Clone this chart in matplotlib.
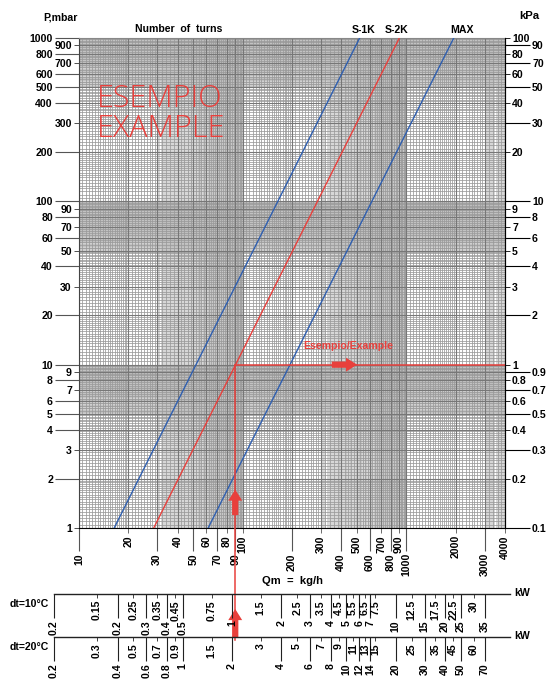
import numpy as np
import matplotlib
matplotlib.use('Agg')
import matplotlib.pyplot as plt
from matplotlib.ticker import FixedLocator, FixedFormatter, NullLocator

plt.rcParams['font.family'] = ['Liberation Sans Narrow', 'Liberation Sans', 'DejaVu Sans']
plt.rcParams['font.weight'] = 'bold'

# ---------------- data ----------------
pressure_ends = [1, 1000]          # mbar
s1k_flow = [16.4, 518]             # kg/h at 1 and 1000 mbar
s2k_flow = [28.6, 905]
max_flow = [61.5, 1945]
curve_labels = ['S-1K', 'S-2K', 'MAX']

example_flow = 90                  # kg/h
example_pressure = 10              # mbar

p_far = [2, 4, 5, 6, 8, 10, 20, 40, 60, 80, 100, 200, 400, 500, 600, 800, 1000]
p_close = [1, 3, 7, 9, 30, 50, 70, 90, 300, 700, 900]
kpa_far = [0.1, 0.3, 0.5, 0.7, 0.9, 2, 4, 6, 8, 10, 30, 50, 70, 90]
kpa_close = [0.2, 0.4, 0.6, 0.8, 1, 3, 5, 7, 9, 20, 40, 60, 80, 100]
q_far = [10, 30, 50, 70, 90, 200, 400, 600, 800, 1000, 3000]
q_close = [20, 40, 60, 80, 100, 300, 500, 700, 900, 2000, 4000]

kw10_major = [0.2, 0.3, 0.4, 0.5, 1, 2, 3, 4, 5, 6, 7, 10, 15, 20, 25, 35]
kw10_minor = [0.15, 0.25, 0.35, 0.45, 0.75, 1.5, 2.5, 3.5, 4.5, 5.5, 6.5, 7.5, 12.5, 17.5, 22.5, 30]
kw20_major = [0.4, 0.6, 0.8, 1, 2, 4, 6, 8, 10, 12, 14, 20, 30, 40, 50, 70]
kw20_minor = [0.3, 0.5, 0.7, 0.9, 1.5, 3, 5, 7, 9, 11, 13, 15, 25, 35, 45, 60]
kw_start_label = '0.2'
kcal_per_kwh = 860

# ---------------- layout ----------------
W, H = 555, 680
AX_L, AX_R, AX_T, AX_B = 79, 505, 38, 528
RED = '#e8403c'
BLUE = '#2f5fb0'
FS = 7.6
PT = 0.72  # points per pixel at 100 dpi

fig = plt.figure(figsize=(W / 100, H / 100), dpi=100)
ax = fig.add_axes([AX_L / W, 1 - AX_B / H, (AX_R - AX_L) / W, (AX_B - AX_T) / H])
ax.set_xscale('log')
ax.set_yscale('log')
ax.set_xlim(10, 4000)
ax.set_ylim(1, 1000)


def fig_x(q):
    x0, x1 = ax.get_xlim()
    return AX_L / W + (np.log10(q) - np.log10(x0)) / (np.log10(x1) - np.log10(x0)) * (AX_R - AX_L) / W


# ---------------- grid ----------------
def grid_values(lo, hi, segs):
    d = lo
    out = []
    while d < hi:
        for a, b, step in segs:
            vals = np.arange(a, b + 1e-9, step) * d
            out.extend(vals[(vals >= lo) & (vals <= hi)])
        d *= 10
    return np.unique(np.round(out, 6))


x_light = grid_values(10, 4000, [(3, 10, 0.05)])
x_norm = grid_values(10, 4000, [(1, 2, 0.05), (2, 3, 0.1), (3, 10, 0.2)])
y_light = grid_values(1, 1000, [(5, 10, 0.05)])
y_norm = grid_values(1, 1000, [(1, 2, 0.05), (2, 5, 0.1), (5, 10, 0.2)])
x_int = grid_values(10, 4000, [(1, 10, 1)])
y_int = grid_values(1, 1000, [(1, 10, 1)])

ax.vlines(x_light, 1, 1000, colors='#c0c0c0', lw=0.45, zorder=0)
ax.hlines(y_light, 10, 4000, colors='#bcbcbc', lw=0.5, zorder=0)
ax.vlines(x_norm, 1, 1000, colors='#9a9a9a', lw=0.55, zorder=0.5)
ax.hlines(y_norm, 10, 4000, colors='#9a9a9a', lw=0.55, zorder=0.5)
ax.vlines(x_int, 1, 1000, colors='#777777', lw=0.8, zorder=0.6)
ax.hlines(y_int, 10, 4000, colors='#777777', lw=0.8, zorder=0.6)

# ---------------- curves ----------------
ax.plot(s1k_flow, pressure_ends, color=BLUE, lw=1.0, zorder=3)
ax.plot(s2k_flow, pressure_ends, color=RED, lw=1.0, zorder=3)
ax.plot(max_flow, pressure_ends, color=BLUE, lw=1.0, zorder=3)

# ---------------- axes styling ----------------
fmt = lambda v: f'{v:g}'
ax.spines['top'].set_color('#888888')
ax.spines['left'].set_color('#444444')
ax.spines['bottom'].set_color('black')
ax.spines['right'].set_color('black')

ax.yaxis.set_major_locator(FixedLocator(p_far))
ax.yaxis.set_major_formatter(FixedFormatter([fmt(v) for v in p_far]))
ax.yaxis.set_minor_locator(FixedLocator(p_close))
ax.yaxis.set_minor_formatter(FixedFormatter([fmt(v) for v in p_close]))
ax.tick_params(axis='y', which='major', length=24 * PT, pad=1.5, labelsize=FS, color='#555555')
ax.tick_params(axis='y', which='minor', length=5 * PT, pad=1.5, labelsize=FS, color='#333333')

ax.xaxis.set_major_locator(FixedLocator(q_far))
ax.xaxis.set_major_formatter(FixedFormatter([fmt(v) for v in q_far]))
ax.xaxis.set_minor_locator(FixedLocator(q_close))
ax.xaxis.set_minor_formatter(FixedFormatter([fmt(v) for v in q_close]))
ax.tick_params(axis='x', which='major', length=23 * PT, pad=1.5, labelsize=FS, labelrotation=90, color='#555555')
ax.tick_params(axis='x', which='minor', length=5 * PT, pad=1.5, labelsize=FS, labelrotation=90, color='#555555')
for lab in ax.get_xticklabels(which='both') + ax.get_yticklabels(which='both'):
    lab.set_fontweight('bold')

ax2 = ax.twinx()
ax2.set_yscale('log')
ax2.set_ylim(0.1, 100)
ax2.yaxis.set_major_locator(FixedLocator(kpa_far))
ax2.yaxis.set_major_formatter(FixedFormatter([fmt(v) for v in kpa_far]))
ax2.yaxis.set_minor_locator(FixedLocator(kpa_close))
ax2.yaxis.set_minor_formatter(FixedFormatter([fmt(v) for v in kpa_close]))
ax2.tick_params(axis='y', which='major', length=25 * PT, pad=1.5, labelsize=FS, color='black')
ax2.tick_params(axis='y', which='minor', length=5 * PT, pad=1.5, labelsize=FS, color='black')
for s in ['top', 'left', 'bottom']:
    ax2.spines[s].set_visible(False)
ax2.spines['right'].set_color('black')

# ---------------- example ----------------
p_lo_line = 10 ** ((AX_B - 640) / ((AX_B - AX_T) / 3))
ax.plot([example_flow, ax.get_xlim()[1]], [example_pressure, example_pressure], color=RED, lw=1.1, zorder=4)
ax.plot([example_flow, example_flow], [example_pressure, p_lo_line], color=RED, lw=1.1, zorder=4, clip_on=False)

arrow = dict(arrowstyle='simple,head_length=0.8,head_width=1.0,tail_width=0.45',
             color=RED, lw=0, shrinkA=0, shrinkB=0, mutation_scale=10)
ax.annotate('', xy=(example_flow, 1.72), xytext=(example_flow, 1.2), arrowprops=arrow, zorder=5)
ax.annotate('', xy=(500, example_pressure), xytext=(350, example_pressure), arrowprops=arrow, zorder=5)
ax.annotate('', xy=(example_flow, 1 - 609 / H), xytext=(example_flow, 1 - 638 / H),
            xycoords=('data', 'figure fraction'), textcoords=('data', 'figure fraction'),
            arrowprops=arrow, annotation_clip=False, zorder=5)
ax.text(440, 13.0, 'Esempio/Example', color=RED, fontsize=FS, fontweight='bold', ha='center', va='center', zorder=5)

big = dict(color=RED, fontsize=22, family=['Open Sans', 'DejaVu Sans'], fontweight=300, va='baseline', zorder=5)
ax.text(12.9, 378, 'ESEMPIO', **big)
ax.text(12.9, 248, 'EXAMPLE', **big)

# ---------------- header texts ----------------
fig.text(60 / W, 1 - 17 / H, 'P,mbar', fontsize=FS, fontweight='bold', ha='center', va='center')
fig.text(529 / W, 1 - 16 / H, 'kPa', fontsize=FS + 0.5, fontweight='bold', ha='center', va='center')
fig.text(179 / W, 1 - 29 / H, 'Number  of  turns', fontsize=FS, fontweight='bold', ha='center', va='center')
for name, xc in zip(curve_labels, [364, 397, 462]):
    fig.text(xc / W, 1 - 30 / H, name, fontsize=FS, fontweight='bold', ha='center', va='center')
fig.text(293 / W, 1 - 581 / H, 'Qm  =  kg/h', fontsize=FS + 0.5, fontweight='bold', ha='center', va='center')

# ---------------- kW scales ----------------
Q_LO, Q_HI = 7.0, 4300


def kw_scale(y_px, dt, majors, minors, label):
    left, right = fig_x(Q_LO), fig_x(Q_HI)
    a = fig.add_axes([left, 1 - y_px / H, right - left, 1e-5])
    a.set_xscale('log')
    lo, hi = Q_LO * dt / kcal_per_kwh, Q_HI * dt / kcal_per_kwh
    a.set_xlim(lo, hi)
    a.yaxis.set_major_locator(NullLocator())
    a.yaxis.set_minor_locator(NullLocator())
    for s in ['top', 'left', 'right']:
        a.spines[s].set_visible(False)
    a.spines['bottom'].set_color('#222222')
    a.spines['bottom'].set_linewidth(1.0)
    a.patch.set_visible(False)
    a.xaxis.set_major_locator(FixedLocator([lo] + majors))
    a.xaxis.set_major_formatter(FixedFormatter([kw_start_label] + [fmt(v) for v in majors]))
    a.xaxis.set_minor_locator(FixedLocator(minors))
    a.xaxis.set_minor_formatter(FixedFormatter([fmt(v) for v in minors]))
    a.tick_params(axis='x', which='major', length=24 * PT, pad=1.5, labelsize=FS, labelrotation=90, color='#222222')
    a.tick_params(axis='x', which='minor', length=4 * PT, pad=1.5, labelsize=FS, labelrotation=90, color='#222222')
    for lab in a.get_xticklabels(which='both'):
        lab.set_fontweight('bold')
    fig.text(514 / W, 1 - (y_px - 1) / H, 'kW', fontsize=FS, fontweight='bold', ha='left', va='center')
    fig.text(10 / W, 1 - (y_px + 10) / H, label, fontsize=FS, fontweight='bold', ha='left', va='center')
    return a


kw_scale(594, 10, kw10_major, kw10_minor, 'dt=10°C')
kw_scale(637, 20, kw20_major, kw20_minor, 'dt=20°C')

fig.savefig('out.png', dpi=100)
